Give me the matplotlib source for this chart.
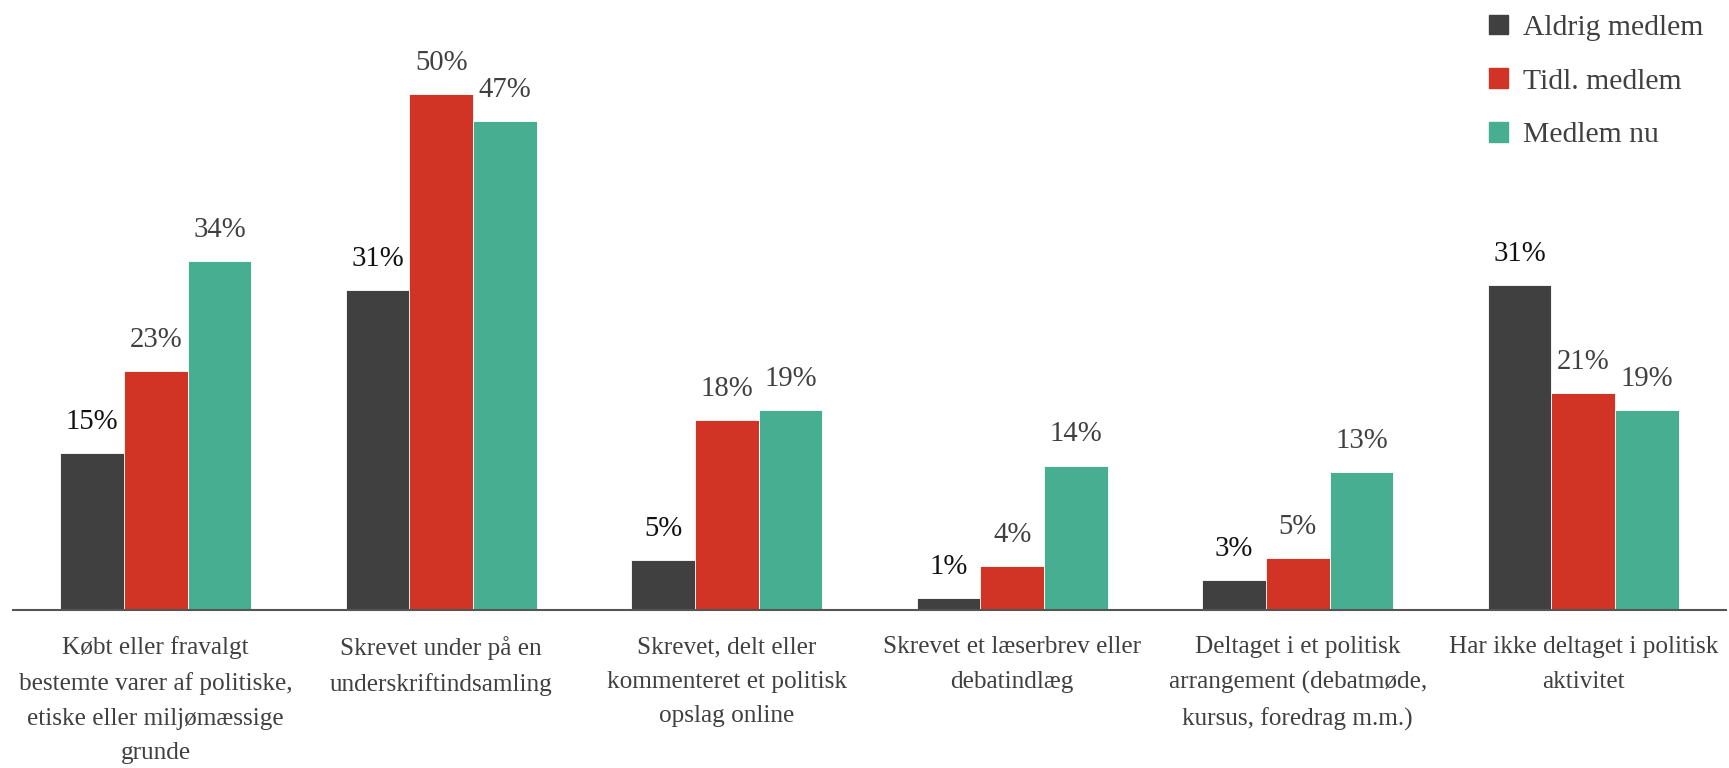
import matplotlib.pyplot as plt
import numpy as np
from matplotlib.patches import Patch

plt.rcParams['font.family'] = ['Liberation Serif', 'DejaVu Serif']

kategorier = ["Købt eller fravalgt\nbestemte varer af politiske,\netiske eller miljømæssige\ngrunde",
              "Skrevet under på en\nunderskriftindsamling",
              "Skrevet, delt eller\nkommenteret et politisk\nopslag online",
              "Skrevet et læserbrev eller\ndebatindlæg",
              "Deltaget i et politisk\narrangement (debatmøde,\nkursus, foredrag m.m.)",
              "Har ikke deltaget i politisk\naktivitet"]

aldrig = [15.2, 31.0, 4.8, 1.2, 2.9, 31.45]
tidl = [23.2, 50.0, 18.4, 4.3, 5.0, 21.0]
nu = [33.8, 47.4, 19.4, 14.0, 13.4, 19.4]

serier = ["Aldrig medlem", "Tidl. medlem", "Medlem nu"]
farver = ["#404040", "#d13324", "#48ae91"]
tekstfarver = ["#111111", "#404040", "#404040"]

fig = plt.figure(figsize=(17.29, 7.68), dpi=100)
ax = fig.add_axes([13/1729, 158/768, 1713/1729, 567.6/768])

x = np.arange(len(kategorier))
w = 0.223
for i, (vals, farve, tf) in enumerate(zip([aldrig, tidl, nu], farver, tekstfarver)):
    pos = x + (i - 1) * w
    ax.bar(pos, vals, width=w, color=farve, edgecolor="white", linewidth=0.6, label=serier[i])
    for p, v in zip(pos, vals):
        ax.annotate(f"{v:.0f}%", (p, v), xytext=(0, 13), textcoords="offset points",
                    ha="center", va="bottom", fontsize=20.7, color=tf)

ax.set_xlim(-0.5, 5.5)
ax.set_ylim(0, 55)
ax.set_xticks(x)
ax.set_xticklabels(kategorier, fontsize=18.2, color="#404040", linespacing=1.72, va="top")
ax.tick_params(axis="x", length=0, pad=19)
ax.set_yticks([])
for s in ["top", "left", "right"]:
    ax.spines[s].set_visible(False)
ax.spines["bottom"].set_color("#555555")
ax.spines["bottom"].set_linewidth(1.5)

handles = [Patch(color=c) for c in farver]
fig.legend(handles, serier, loc="upper left", bbox_to_anchor=(1462/1729, 1 + 12/768),
           frameon=False, fontsize=21.3, handlelength=0.65, handleheight=0.65,
           labelspacing=0.93, handletextpad=0.5, labelcolor="#404040")

plt.savefig("out.png", dpi=100)
